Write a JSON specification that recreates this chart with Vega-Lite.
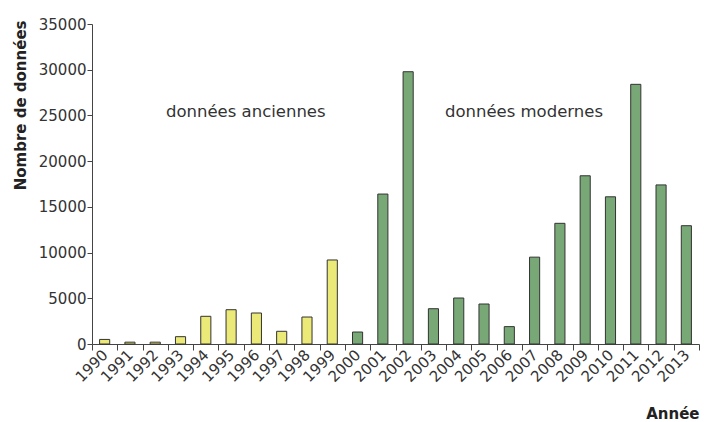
{
  "$schema": "https://vega.github.io/schema/vega-lite/v6.json",
  "autosize": "none",
  "width": 607,
  "height": 320,
  "padding": {"left": 92, "top": 24, "right": 5, "bottom": 78},
  "background": "white",
  "config": {
    "view": {"stroke": null},
    "font": "DejaVu Sans",
    "axis": {"grid": false, "domainColor": "#444", "tickColor": "#444", "labelColor": "#333", "titleColor": "#222", "labelFont": "DejaVu Sans", "titleFont": "DejaVu Sans"}
  },
  "layer": [
    {
      "data": {"values": [
        {"year": "1990", "count": 500, "period": "ancien"},
        {"year": "1991", "count": 200, "period": "ancien"},
        {"year": "1992", "count": 200, "period": "ancien"},
        {"year": "1993", "count": 800, "period": "ancien"},
        {"year": "1994", "count": 3030, "period": "ancien"},
        {"year": "1995", "count": 3750, "period": "ancien"},
        {"year": "1996", "count": 3390, "period": "ancien"},
        {"year": "1997", "count": 1390, "period": "ancien"},
        {"year": "1998", "count": 2950, "period": "ancien"},
        {"year": "1999", "count": 9190, "period": "ancien"},
        {"year": "2000", "count": 1310, "period": "moderne"},
        {"year": "2001", "count": 16400, "period": "moderne"},
        {"year": "2002", "count": 29780, "period": "moderne"},
        {"year": "2003", "count": 3860, "period": "moderne"},
        {"year": "2004", "count": 5030, "period": "moderne"},
        {"year": "2005", "count": 4375, "period": "moderne"},
        {"year": "2006", "count": 1900, "period": "moderne"},
        {"year": "2007", "count": 9500, "period": "moderne"},
        {"year": "2008", "count": 13200, "period": "moderne"},
        {"year": "2009", "count": 18400, "period": "moderne"},
        {"year": "2010", "count": 16100, "period": "moderne"},
        {"year": "2011", "count": 28400, "period": "moderne"},
        {"year": "2012", "count": 17400, "period": "moderne"},
        {"year": "2013", "count": 12940, "period": "moderne"}
      ]},
      "mark": {"type": "bar", "width": {"band": 0.4}, "stroke": "#333", "strokeWidth": 1},
      "encoding": {
        "x": {"field": "year", "type": "ordinal", "scale": {"paddingInner": 0, "paddingOuter": 0},
          "axis": {"title": "Année", "labelAngle": -45, "labelAlign": "right", "labelBaseline": "middle", "labelFontSize": 15, "labelPadding": 2,
            "tickBand": "extent", "tickSize": 6, "titleFontSize": 15, "titleFontWeight": "bold", "titleAnchor": "end", "titleAlign": "right", "titleX": 607, "titleY": 74, "titleBaseline": "alphabetic"}},
        "y": {"field": "count", "type": "quantitative", "scale": {"domain": [0, 35000]},
          "axis": {"title": "Nombre de données", "values": [0, 5000, 10000, 15000, 20000, 25000, 30000, 35000], "format": "d", "labelFontSize": 15, "labelPadding": 1, "tickSize": 5,
            "titleFontSize": 15, "titleFontWeight": "bold", "titleAnchor": "end", "titleAlign": "right", "titleX": -67, "titleY": -4, "titleBaseline": "alphabetic"}},
        "color": {"field": "period", "type": "nominal", "scale": {"domain": ["ancien", "moderne"], "range": ["#ebe977", "#79a877"]}, "legend": null}
      }
    },
    {
      "data": {"values": [
        {"label": "données anciennes", "year": "1996", "count": 25400},
        {"label": "données modernes", "year": "2007", "count": 25400}
      ]},
      "mark": {"type": "text", "fontSize": 16.5, "color": "#333", "align": "center", "baseline": "middle", "font": "DejaVu Sans"},
      "encoding": {
        "x": {"field": "year", "type": "ordinal", "bandPosition": 0.08},
        "y": {"field": "count", "type": "quantitative"},
        "text": {"field": "label"}
      }
    }
  ]
}
